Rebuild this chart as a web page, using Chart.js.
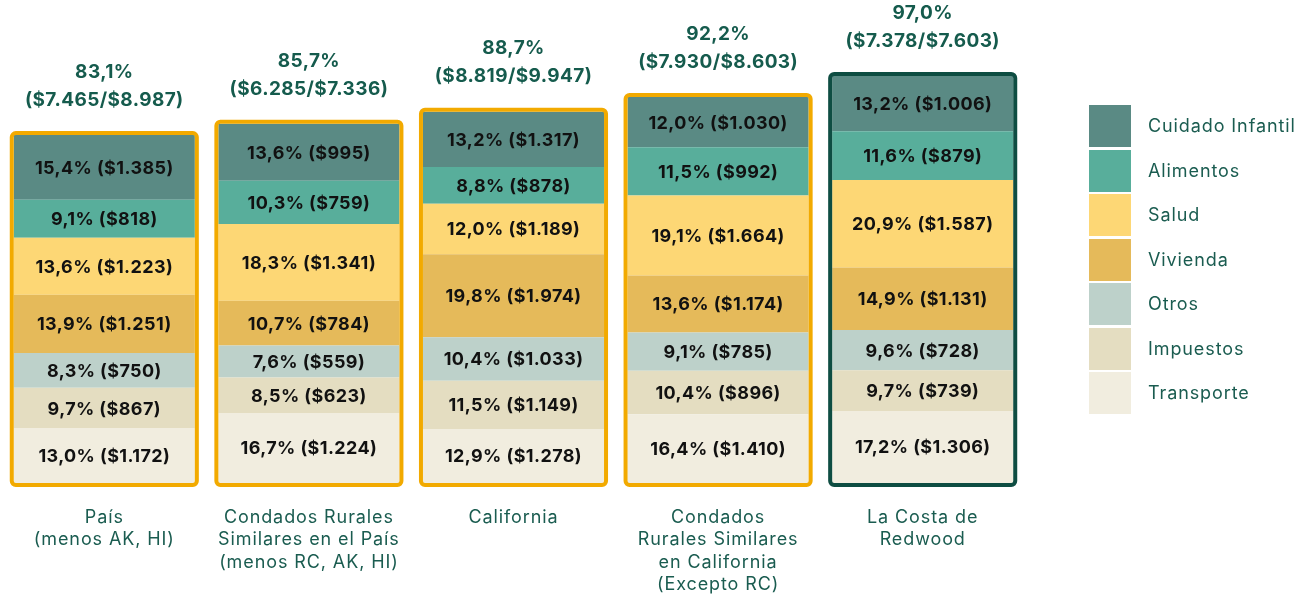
<!DOCTYPE html>
<html>
<head>
<meta charset="utf-8">
<script src="https://cdn.jsdelivr.net/npm/chart.js@4.4.1/dist/chart.umd.min.js"></script>
<style>
  html, body { margin: 0; padding: 0; background: #fff; }
  #wrap { position: relative; width: 1313px; height: 596px; }
  #c { position: absolute; left: 0; top: 0; }
  #legend { position: absolute; left: 1089px; top: 105px; font-family: Inter, "Noto Sans", sans-serif; }
  .li { position: relative; height: 42px; margin-bottom: 2.5px; }
  .sw { position: absolute; left: 0; top: 0; width: 42px; height: 42px; }
  .lt { position: absolute; left: 59px; top: 0; line-height: 42px; font-size: 18px; letter-spacing: 0.9px; color: #1A5C50; white-space: nowrap; }
</style>
</head>
<body>
<div id="wrap">
  <canvas id="c" width="1313" height="596"></canvas>
  <div id="legend"></div>
</div>
<script>
const categories = [
  ["País", "(menos AK, HI)"],
  ["Condados Rurales", "Similares en el País", "(menos RC, AK, HI)"],
  ["California"],
  ["Condados", "Rurales Similares", "en California", "(Excepto RC)"],
  ["La Costa de", "Redwood"]
];
const totalPct   = [83.1, 85.7, 88.7, 92.2, 97.0];
const totalSpent = [7465, 6285, 8819, 7930, 7378];
const totalIncome = [8987, 7336, 9947, 8603, 7603];

// stacked from bottom to top
const seriesNames = ["Transporte", "Impuestos", "Otros", "Vivienda", "Salud", "Alimentos", "Cuidado Infantil"];
const seriesColors = ["#F1EDDF", "#E4DDC1", "#BDD1CA", "#E5BA5A", "#FDD775", "#58AE9B", "#5A8A84"];
const transportePct = [13.0, 16.7, 12.9, 16.4, 17.2];
const transporteUsd = [1172, 1224, 1278, 1410, 1306];
const impuestosPct = [9.7, 8.5, 11.5, 10.4, 9.7];
const impuestosUsd = [867, 623, 1149, 896, 739];
const otrosPct = [8.3, 7.6, 10.4, 9.1, 9.6];
const otrosUsd = [750, 559, 1033, 785, 728];
const viviendaPct = [13.9, 10.7, 19.8, 13.6, 14.9];
const viviendaUsd = [1251, 784, 1974, 1174, 1131];
const saludPct = [13.6, 18.3, 12.0, 19.1, 20.9];
const saludUsd = [1223, 1341, 1189, 1664, 1587];
const alimentosPct = [9.1, 10.3, 8.8, 11.5, 11.6];
const alimentosUsd = [818, 759, 878, 992, 879];
const cuidadoPct = [15.4, 13.6, 13.2, 12.0, 13.2];
const cuidadoUsd = [1385, 995, 1317, 1030, 1006];

const pctSeries = [transportePct, impuestosPct, otrosPct, viviendaPct, saludPct, alimentosPct, cuidadoPct];
const usdSeries = [transporteUsd, impuestosUsd, otrosUsd, viviendaUsd, saludUsd, alimentosUsd, cuidadoUsd];

const FONT = "Inter, 'Noto Sans', sans-serif";
const fmtPct = v => v.toFixed(1).replace('.', ',') + '%';
const fmtUsd = v => '$' + String(v).replace(/\B(?=(\d{3})+(?!\d))/g, '.');

// HTML legend (top-to-bottom = reversed stack order)
const leg = document.getElementById('legend');
for (let i = seriesNames.length - 1; i >= 0; i--) {
  const d = document.createElement('div'); d.className = 'li';
  d.innerHTML = '<div class="sw" style="background:' + seriesColors[i] + '"></div><div class="lt">' + seriesNames[i] + '</div>';
  leg.appendChild(d);
}

const spacing = {
  id: 'spacing',
  beforeLayout(chart) { chart.ctx.letterSpacing = '0.9px'; },
  beforeDraw(chart) { chart.ctx.letterSpacing = '0.9px'; }
};

const overlay = {
  id: 'overlay',
  afterDatasetsDraw(chart) {
    const ctx = chart.ctx;
    const ys = chart.scales.y;
    const n = chart.data.datasets.length;
    ctx.save();
    ctx.letterSpacing = '0.4px';
    // segment labels
    ctx.textAlign = 'center'; ctx.textBaseline = 'middle';
    ctx.font = "700 18px " + FONT;
    ctx.fillStyle = '#111111';
    for (let d = 0; d < n; d++) {
      const meta = chart.getDatasetMeta(d);
      meta.data.forEach((el, i) => {
        const y = (el.y + el.base) / 2;
        ctx.fillText(fmtPct(pctSeries[d][i]) + ' (' + fmtUsd(usdSeries[d][i]) + ')', el.x, y + 1);
      });
    }
    // frames + totals
    const base = ys.getPixelForValue(0);
    const first = chart.getDatasetMeta(0).data;
    const last = chart.getDatasetMeta(n - 1).data;
    first.forEach((el, i) => {
      const top = last[i].y;
      const half = el.width / 2;
      ctx.lineWidth = 4;
      ctx.strokeStyle = i === categories.length - 1 ? '#0E4D42' : '#F2AA00';
      ctx.beginPath();
      ctx.roundRect(el.x - half - 2, top - 2, el.width + 4, base - top + 4, 4);
      ctx.stroke();
      ctx.fillStyle = '#155B4D';
      ctx.font = "700 19px " + FONT;
      ctx.fillText(fmtPct(totalPct[i]), el.x, top - 63);
      ctx.fillText('(' + fmtUsd(totalSpent[i]) + '/' + fmtUsd(totalIncome[i]) + ')', el.x, top - 35);
    });
    ctx.restore();
  }
};

new Chart(document.getElementById('c'), {
  type: 'bar',
  data: {
    labels: categories,
    datasets: seriesNames.map((name, k) => ({
      label: name,
      data: pctSeries[k],
      backgroundColor: seriesColors[k],
      borderWidth: 0,
      barPercentage: 0.885,
      categoryPercentage: 1.0
    }))
  },
  options: {
    responsive: false,
    animation: false,
    devicePixelRatio: 1,
    layout: { padding: { left: 2, right: 288, top: 1, bottom: 0 } },
    plugins: { legend: { display: false }, tooltip: { enabled: false } },
    scales: {
      x: {
        stacked: true,
        grid: { display: false, drawTicks: false },
        border: { display: false },
        afterFit(scale) { scale.height = 113; },
        ticks: { color: '#1A5C50', font: { family: FONT, size: 18, lineHeight: 1.25 }, padding: 23, maxRotation: 0, autoSkip: false }
      },
      y: {
        stacked: true,
        display: false,
        min: 0,
        max: 115
      }
    }
  },
  plugins: [spacing, overlay]
});
</script>
</body>
</html>
